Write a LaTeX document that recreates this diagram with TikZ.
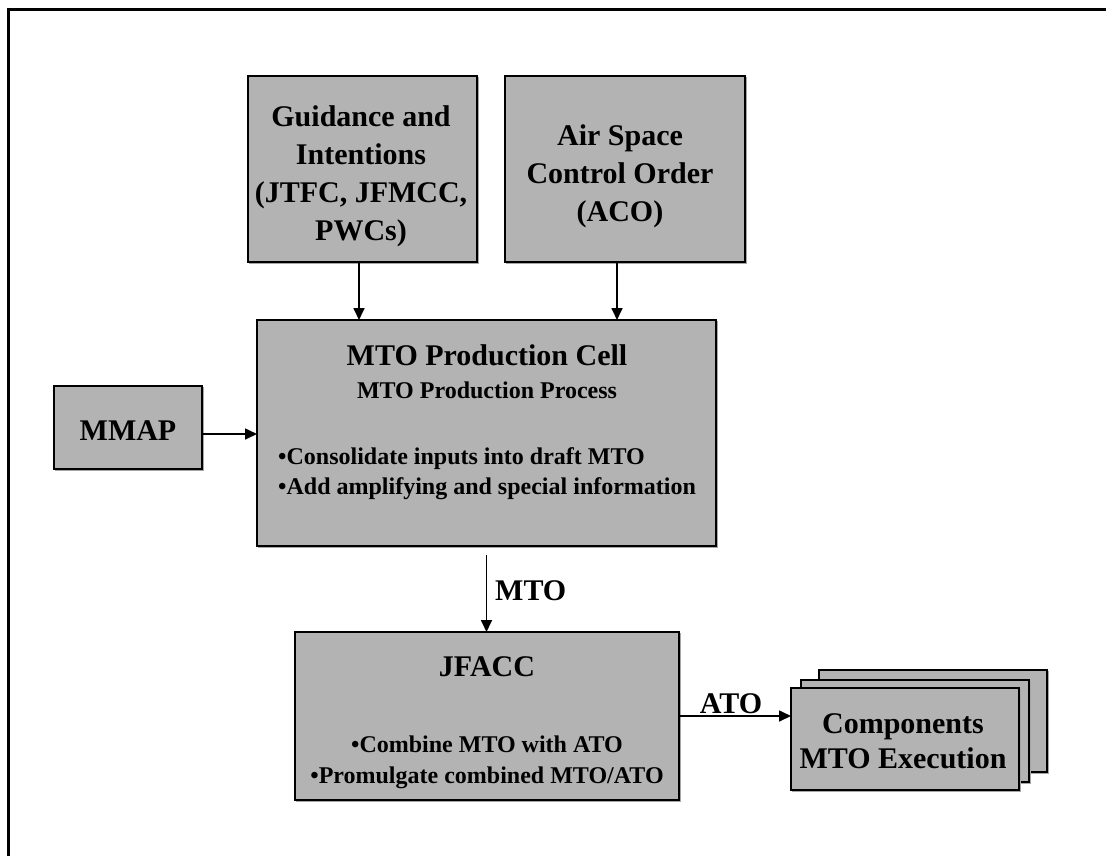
\documentclass[tikz,border=0pt]{standalone}
\usepackage{fontspec}
\setmainfont{Liberation Serif}
\usetikzlibrary{arrows.meta}
\definecolor{boxgray}{RGB}{179,179,179}
\begin{document}
\begin{tikzpicture}[x=1pt,y=-1pt,
  box/.style={draw, line width=2pt, fill=boxgray, anchor=north west,
    inner sep=0pt, outer sep=0pt,
    preaction={draw=black!35, line width=1.5pt,
      transform canvas={shift={(1.5pt,-1.5pt)}}}},
  big/.style={font=\bfseries\fontsize{30}{38}\selectfont, inner sep=0pt, anchor=base},
  small/.style={font=\bfseries\fontsize{24}{30}\selectfont, inner sep=0pt, anchor=base},
  arr/.style={line width=1.7pt, -{Triangle[length=12pt,width=11pt]}}]
\useasboundingbox (0,0) rectangle (1106,855);

% frame
\draw[line width=3pt] (8,856) -- (8,9) -- (1107,9);

% boxes
\node[box, minimum width=229pt, minimum height=186pt] (guid) at (248,76) {};
\node[box, minimum width=240pt, minimum height=186pt] (aco) at (505,76) {};
\node[box, minimum width=148pt, minimum height=83pt] (mmap) at (54,386) {};
\node[box, minimum width=459pt, minimum height=226pt] (mto) at (257,320) {};
\node[box, minimum width=384pt, minimum height=168pt] (jfacc) at (295,632) {};
\node[box, minimum width=228pt, minimum height=102pt] (compc) at (819,670) {};
\node[box, minimum width=228pt, minimum height=102pt] (compb) at (801,680) {};
\node[box, minimum width=228pt, minimum height=102pt] (comp) at (791,688) {};

% box texts
\node[big] (g1) at (361,126) {Guidance and};
\node[big] (g2) at (361,164) {Intentions};
\node[big] (g3) at (361,202) {(JTFC, JFMCC,};
\node[big] (g4) at (361,240) {PWCs)};

\node[big] (a1) at (620,145) {Air Space};
\node[big] (a2) at (620,183) {Control Order};
\node[big] (a3) at (620,221) {(ACO)};

\node[big] (m1) at (128,440) {MMAP};

\node[big] (p1) at (487,365) {MTO Production Cell};
\node[small] (p2) at (487,398) {MTO Production Process};
\node[small, anchor=base west] (p3) at (278,464) {•Consolidate inputs into draft MTO};
\node[small, anchor=base west] (p4) at (278,494) {•Add amplifying and special information};

\node[big] (j1) at (487,676) {JFACC};
\node[small] (j2) at (487,752) {•Combine MTO with ATO};
\node[small] (j3) at (487,783) {•Promulgate combined MTO/ATO};

\node[big] (c1) at (903,733) {Components};
\node[big] (c2) at (903,768) {MTO Execution};

% connectors
\draw[arr] ([xshift=-3.5pt]guid.south) -- ([xshift=-3.5pt]guid.south |- mto.north);
\draw[arr] ([xshift=-8pt]aco.south) -- ([xshift=-8pt]aco.south |- mto.north);
\draw[arr] ([yshift=-6.5pt]mmap.east) -- ([yshift=-6.5pt]mmap.east -| mto.west);
\draw[arr] ([yshift=-9pt]mto.south) -- (mto.south |- jfacc.north);
\draw[arr] (jfacc.east) -- (jfacc.east -| comp.west);

% connector labels
\node[big, anchor=base west] (lmto) at (495,600) {MTO};
\node[big] (lato) at (731,713) {ATO};
\end{tikzpicture}
\end{document}
